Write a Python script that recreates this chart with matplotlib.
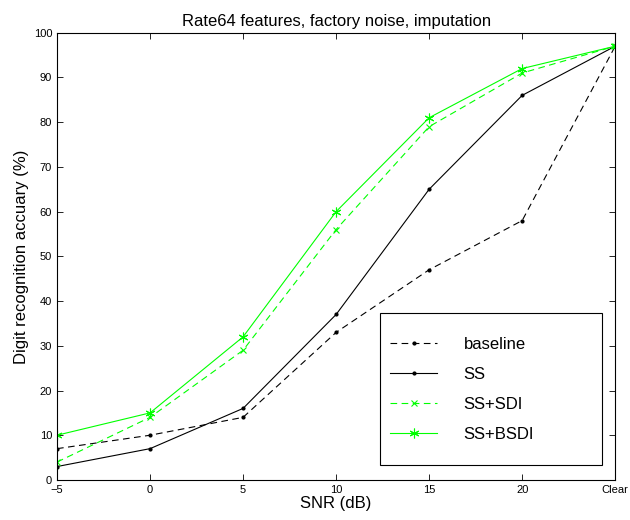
import matplotlib
matplotlib.use("Agg")
import matplotlib.pyplot as plt
from matplotlib.patches import Rectangle

snr_positions = [-5, 0, 5, 10, 15, 20, 25]
tick_labels = ["\u22125", "0", "5", "10", "15", "20", "Clear"]

baseline = [7, 10, 14, 33, 47, 58, 97]
ss = [3, 7, 16, 37, 65, 86, 97]
ss_sdi = [4, 14, 29, 56, 79, 91, 97]
ss_bsdi = [10, 15, 32, 60, 81, 92, 97]

plt.rcParams["font.family"] = ["Liberation Sans", "DejaVu Sans"]

fig = plt.figure(figsize=(6.3, 5.2), dpi=100)
ax = fig.add_axes([0.0905, 0.077, 0.886, 0.86])

green = "#00ff00"
ax.plot(snr_positions, baseline, color="black", linestyle=(0, (6, 4)), linewidth=0.8,
        marker=".", markersize=4, label="baseline")
ax.plot(snr_positions, ss, color="black", linestyle="-", linewidth=0.8,
        marker=".", markersize=4, label="SS")
ax.plot(snr_positions, ss_sdi, color=green, linestyle=(0, (6, 4)), linewidth=0.8,
        marker="x", markersize=5, markeredgewidth=0.8, label="SS+SDI")
ax.plot(snr_positions, ss_bsdi, color=green, linestyle="-", linewidth=0.8,
        marker=(6, 2, 0), markersize=7, markeredgewidth=0.8, label="SS+BSDI")

ax.set_xlim(-5, 25)
ax.set_ylim(0, 100)
ax.set_xticks(snr_positions)
ax.set_xticklabels(tick_labels)
ax.set_yticks(range(0, 101, 10))
ax.tick_params(direction="in", length=4, labelsize=8, top=True, right=True, width=0.6)
for spine in ax.spines.values():
    spine.set_linewidth(0.8)

ax.set_xlabel("SNR (dB)", fontsize=12, labelpad=1)
ax.set_ylabel("Digit recognition accuary (%)", fontsize=12, labelpad=3)
ax.set_title("Rate64 features, factory noise, imputation", fontsize=12, pad=5)

# MATLAB-style legend box, wider than its contents
box = Rectangle((0.579, 0.034), 0.398, 0.34, transform=ax.transAxes,
                facecolor="white", edgecolor="black", linewidth=0.8, zorder=4)
ax.add_patch(box)
leg = ax.legend(loc="upper left", bbox_to_anchor=(0.597, 0.319), fontsize=12,
                frameon=False, borderpad=0, labelspacing=0.9, handlelength=2.8,
                handletextpad=1.6, borderaxespad=0)
leg.set_zorder(5)

fig.savefig("out.png", dpi=100)
